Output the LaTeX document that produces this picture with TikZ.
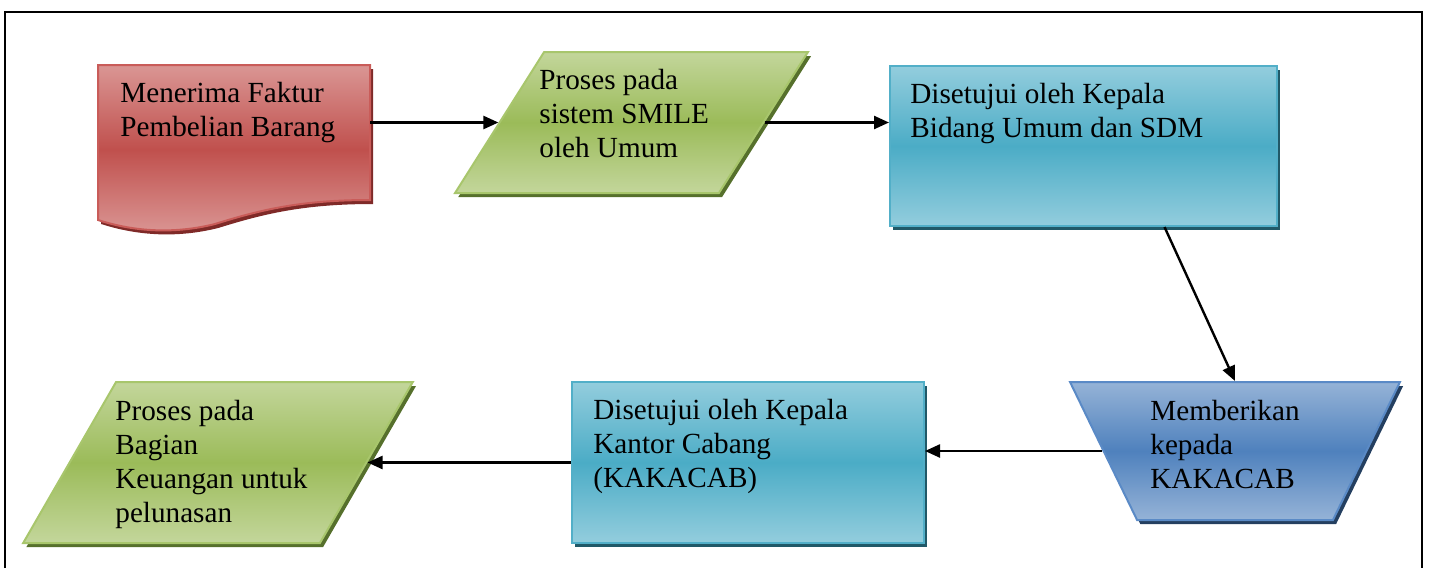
\documentclass[tikz,border=0pt]{standalone}
\usepackage{fontspec}
\setmainfont{Liberation Serif}
\usetikzlibrary{shapes.geometric,shadows,arrows.meta}
\definecolor{redL}{HTML}{DA9694}
\definecolor{redM}{HTML}{C0504D}
\definecolor{redB}{HTML}{C95C59}
\definecolor{redS}{HTML}{7F2A28}
\definecolor{grnL}{HTML}{C3D69B}
\definecolor{grnM}{HTML}{9BBB59}
\definecolor{grnB}{HTML}{A8C66C}
\definecolor{grnS}{HTML}{56702C}
\definecolor{aquL}{HTML}{93CDDD}
\definecolor{aquM}{HTML}{4BACC6}
\definecolor{aquB}{HTML}{52AFC8}
\definecolor{aquS}{HTML}{215968}
\definecolor{bluL}{HTML}{95B3D7}
\definecolor{bluM}{HTML}{4F81BD}
\definecolor{bluB}{HTML}{5A8AC6}
\definecolor{bluS}{HTML}{243F60}
\begin{document}
\begin{tikzpicture}[x=0.5pt,y=-0.5pt,
  txt/.style={font=\fontsize{14.6}{16.85}\selectfont, anchor=base west, align=left, inner sep=0pt},
  conn/.style={line width=1.2pt, -{Triangle[length=7.5pt,width=6.5pt]}},
  shp/.style n args={4}{top color=#1, bottom color=#1, middle color=#2, draw=#3, line width=1pt,
     drop shadow={shadow xshift=1.6pt, shadow yshift=-2pt, fill=#4, opacity=1}},
  redfill/.style={shp={redL}{redM}{redB}{redS}},
  grnfill/.style={shp={grnL}{grnM}{grnB}{grnS}},
  aqufill/.style={shp={aquL}{aquM}{aquB}{aquS}},
  blufill/.style={shp={bluL}{bluM}{bluB}{bluS}},
  para/.style={trapezium, trapezium stretches=true, inner sep=3pt}
]
\useasboundingbox (0,0) rectangle (1430,568);
\draw[line width=1.2pt] (5,568) -- (5,12) -- (1422,12) -- (1422,568);

% document shape
\path[redfill] (98,65) -- (370,65) -- (370,200)
  .. controls (300,200) and (260,210) .. (215,224)
  .. controls (175,234) and (135,232) .. (98,220) -- cycle;
\node[inner sep=0pt, minimum width=136pt, minimum height=67.5pt] (doc) at (234,132.5) {};

\node[para, grnfill, trapezium left angle=63, trapezium right angle=117,
  minimum width=176.5pt, minimum height=70.5pt] (p1) at (631.5,122.5) {};
\node[rectangle, aqufill, minimum width=193.5pt, minimum height=80pt] (b1) at (1083.5,146) {};
\node[para, blufill, trapezium left angle=108.9, trapezium right angle=108.9,
  minimum width=165pt, minimum height=69pt] (tz) at (1235,451) {};
\node[rectangle, aqufill, minimum width=176pt, minimum height=80.5pt] (b2) at (748,462.5) {};
\node[para, grnfill, trapezium left angle=65.5, trapezium right angle=114.5,
  minimum width=195pt, minimum height=80.5pt] (p2) at (218,462.5) {};

\node[txt] (t1) at (120,136) {Menerima Faktur\\Pembelian Barang};
\node[txt] (t2) at (539,157) {Proses pada\\sistem SMILE\\oleh Umum};
\node[txt] (t3) at (910,137) {Disetujui oleh Kepala\\Bidang Umum dan SDM};
\node[txt] (t4) at (1150,488) {Memberikan\\kepada\\KAKACAB};
\node[txt] (t5) at (593,487) {Disetujui oleh Kepala\\Kantor Cabang\\(KAKACAB)};
\node[txt] (t6) at (115,522) {Proses pada\\Bagian\\Keuangan untuk\\pelunasan};

\draw[conn] (doc.east |- p1.west) -- (p1.west);
\draw[conn] (p1.east) -- (b1.west |- p1.east);
\draw[conn] (b1.-45) -- (tz.north);
\draw[conn] (tz.west) -- (tz.west -| b2.east);
\draw[conn] (b2.west |- p2.east) -- (p2.east);
\end{tikzpicture}
\end{document}
